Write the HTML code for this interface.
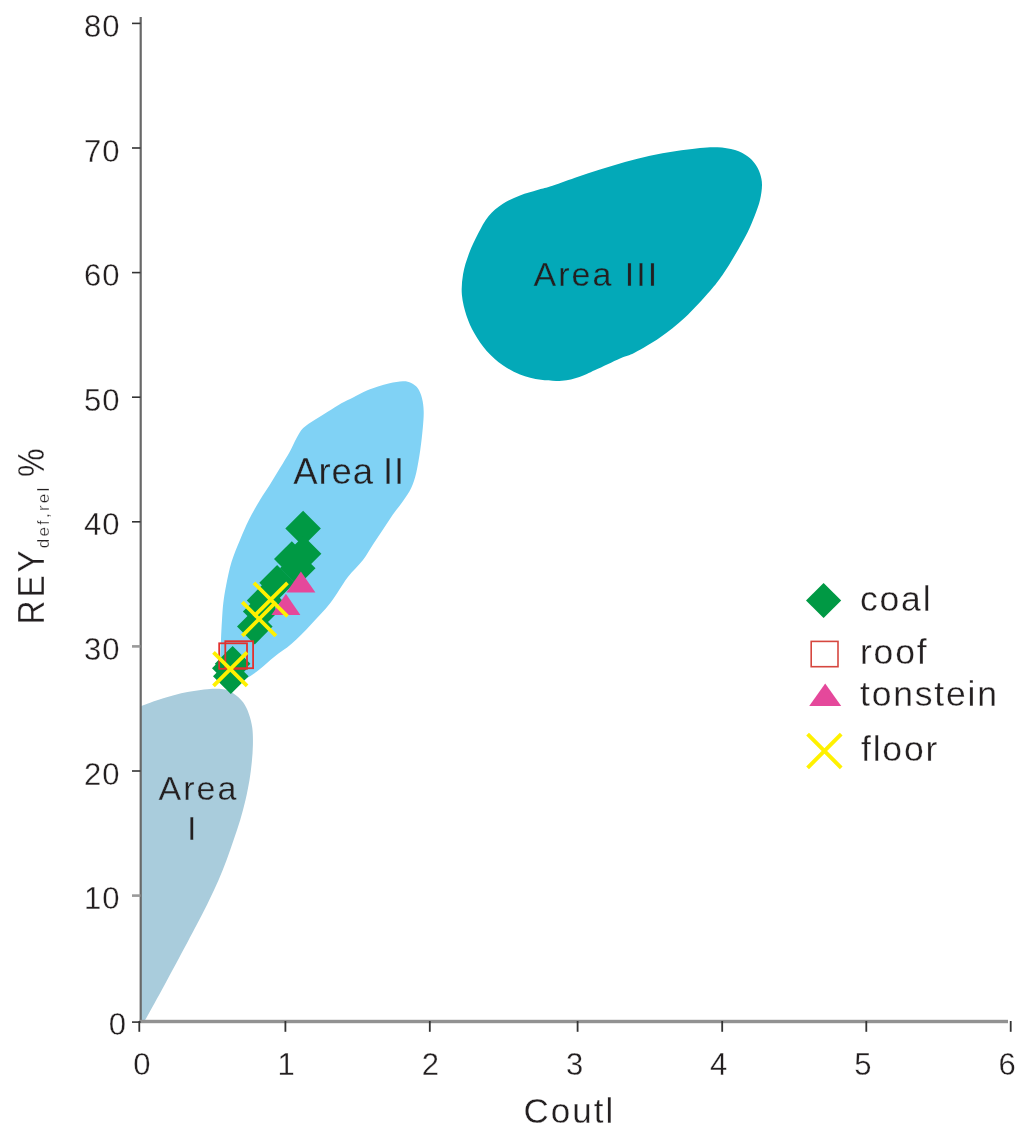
<!DOCTYPE html>
<html lang="en">
<head>
<meta charset="utf-8">
<title>REY def,rel % vs Coutl</title>
<style>
html,body{margin:0;padding:0;background:#fff;}
body{width:1024px;height:1143px;overflow:hidden;}
svg{display:block;}
text{font-family:"Liberation Sans",Arial,Helvetica,sans-serif;fill:#231f20;stroke:#fff;stroke-width:0.3px;}
.on3{stroke:#03a9b8;}
.on2{stroke:#80d2f5;}
.on1{stroke:#a9ccdc;}
.tick{font-size:31px;letter-spacing:1px;}
.lab{font-size:34px;letter-spacing:2px;}
.sub{font-size:17px;letter-spacing:2.2px;}
.leg{font-size:35.5px;letter-spacing:1.8px;}
</style>
</head>
<body>
<svg width="1024" height="1143" viewBox="0 0 1024 1143">
<rect x="0" y="0" width="1024" height="1143" fill="#ffffff"/>
<path d="M402.9,381.3C406.5,381.2 408.7,381.8 411.2,383.0C413.7,384.2 416.0,385.8 417.8,388.3C419.6,390.8 421.0,394.3 422.0,398.2C423.0,402.1 423.6,406.5 423.7,411.5C423.8,416.5 423.4,421.7 422.8,428.1C422.2,434.5 421.4,442.2 420.3,449.7C419.2,457.2 417.7,466.6 416.2,473.0C414.7,479.4 413.4,483.2 411.2,487.9C409.0,492.6 405.9,496.8 402.9,501.2C399.8,505.6 396.2,509.8 392.9,514.5C389.6,519.2 386.3,524.5 383.0,529.5C379.7,534.5 376.3,539.3 373.0,544.4C369.7,549.5 367.2,554.4 363.0,559.9C358.8,565.4 352.9,570.3 347.5,577.5C342.1,584.7 336.4,595.2 330.3,603.0C324.2,610.8 317.4,617.6 311.0,624.4C304.6,631.2 297.7,638.4 291.6,643.8C285.5,649.2 279.8,652.4 274.4,656.7C269.0,661.0 263.7,666.2 259.4,669.6C255.1,673.0 252.3,674.6 248.7,677.0C245.1,679.4 241.4,682.3 238.0,684.0C234.6,685.7 230.8,687.7 228.0,687.0C225.2,686.3 222.8,683.7 221.5,680.0C220.2,676.3 220.5,669.6 220.3,665.0C220.1,660.4 220.4,656.8 220.5,652.5C220.6,648.2 220.8,644.9 221.0,639.5C221.2,634.1 221.6,626.1 222.0,620.0C222.4,613.9 222.6,608.8 223.3,603.0C224.0,597.2 224.9,591.8 226.2,585.0C227.6,578.2 229.2,569.5 231.5,562.0C233.8,554.5 237.1,547.0 240.0,540.0C242.9,533.0 245.4,526.7 248.8,520.0C252.1,513.3 256.5,505.9 260.0,500.0C263.5,494.1 266.7,489.9 270.0,484.6C273.3,479.3 276.7,473.5 280.0,468.0C283.3,462.5 287.1,456.4 289.9,451.4C292.7,446.4 294.4,442.0 296.6,438.1C298.8,434.2 300.1,431.2 303.2,428.1C306.2,425.1 310.8,422.6 314.9,419.8C319.0,417.0 323.7,414.3 328.1,411.5C332.5,408.7 337.2,405.6 341.4,403.2C345.6,400.8 349.0,399.5 353.1,397.4C357.2,395.3 362.2,392.6 366.3,390.8C370.4,389.0 374.1,387.9 378.0,386.6C381.9,385.4 385.5,384.2 389.6,383.3C393.8,382.4 399.3,381.4 402.9,381.3Z" fill="#80d2f5"/>
<path d="M461.9,294.9C461.3,287.9 461.9,280.9 463.1,273.9C464.3,266.9 466.7,259.7 469.2,253.0C471.7,246.3 474.8,239.8 478.0,233.7C481.2,227.6 484.4,221.1 488.5,216.2C492.6,211.2 497.2,207.5 502.5,204.0C507.8,200.5 514.2,197.7 520.0,195.4C525.8,193.1 532.4,191.5 537.4,190.0C542.4,188.5 543.7,188.6 550.0,186.6C556.3,184.6 566.7,180.7 575.0,177.8C583.3,175.0 591.7,172.1 600.0,169.5C608.3,166.9 616.7,164.3 625.0,162.0C633.3,159.7 641.7,157.5 650.0,155.8C658.3,154.0 666.7,152.5 675.0,151.2C683.3,150.0 692.9,148.7 700.0,148.0C707.1,147.3 711.7,147.0 717.5,147.3C723.3,147.6 730.0,148.5 735.0,150.0C740.0,151.5 744.2,154.0 747.5,156.2C750.8,158.5 752.9,160.9 755.0,163.8C757.1,166.6 758.8,170.0 760.0,173.5C761.2,177.0 762.0,180.6 762.0,185.0C762.0,189.4 761.2,195.0 760.0,200.0C758.8,205.0 757.1,209.6 755.0,215.0C752.9,220.4 750.8,225.8 747.5,232.5C744.2,239.2 739.2,247.9 735.0,255.0C730.8,262.1 726.7,269.0 722.5,275.0C718.3,281.0 716.2,283.9 710.0,291.0C703.8,298.1 693.3,309.8 685.0,317.5C676.7,325.2 668.3,331.7 660.0,337.5C651.7,343.3 641.7,349.0 635.0,352.5C628.3,356.0 626.6,355.6 620.0,358.5C613.4,361.4 602.0,367.0 595.2,370.1C588.4,373.2 585.0,375.3 579.4,377.1C573.8,378.9 568.3,380.4 561.9,380.8C555.5,381.2 547.9,380.9 540.9,379.8C533.9,378.8 526.4,377.0 520.0,374.5C513.6,372.0 508.1,368.8 502.5,364.9C496.9,361.0 491.4,356.1 486.7,350.9C482.0,345.6 477.9,339.2 474.5,333.4C471.1,327.6 468.7,322.3 466.6,315.9C464.5,309.5 462.5,301.9 461.9,294.9Z" fill="#03a9b8"/>
<path d="M141.0,706.2C144.6,704.9 154.8,701.0 162.5,698.6C170.2,696.2 179.2,693.7 187.5,692.1C195.8,690.5 206.2,689.2 212.5,688.8C218.8,688.4 221.5,688.8 225.0,689.6C228.5,690.4 230.5,691.5 233.5,693.6C236.5,695.7 240.5,698.9 243.1,702.3C245.7,705.7 247.3,709.5 248.8,713.8C250.3,718.1 251.6,722.8 252.3,728.0C253.0,733.2 253.0,739.3 252.9,745.0C252.8,750.7 252.4,756.2 251.8,762.0C251.2,767.8 250.6,773.7 249.5,780.0C248.4,786.3 247.1,793.3 245.5,800.0C243.9,806.7 242.2,813.3 240.2,820.0C238.2,826.7 235.9,833.3 233.6,840.0C231.3,846.7 229.1,853.3 226.6,860.0C224.1,866.7 221.5,873.3 218.6,880.0C215.7,886.7 212.5,893.3 209.3,900.0C206.1,906.7 203.1,912.5 199.2,920.0C195.3,927.5 191.8,934.2 186.0,945.0C180.2,955.8 171.2,972.6 164.5,985.0C157.8,997.4 149.0,1013.1 145.7,1019.1C142.4,1025.1 144.8,1020.9 144.6,1021.2L141,1021.2L141,706.2Z" fill="#a9ccdc"/>
<rect x="139.6" y="17" width="2.2" height="1005" fill="#686868"/>
<rect x="139.5" y="1019.8" width="868.5" height="3.4" fill="#929292"/>
<rect x="132" y="1021.3" width="8.5" height="1.6" fill="#333"/>
<text class="tick" x="127" y="1034.8" text-anchor="end">0</text>
<rect x="132" y="894.3" width="8.5" height="2.6" fill="#9a9a9a"/>
<text class="tick" x="120.5" y="909.2" text-anchor="end">10</text>
<rect x="132" y="770.2" width="8.5" height="1.6" fill="#333"/>
<text class="tick" x="120.5" y="784.6" text-anchor="end">20</text>
<rect x="132" y="645.1" width="8.5" height="2.6" fill="#9a9a9a"/>
<text class="tick" x="120.5" y="660.0" text-anchor="end">30</text>
<rect x="132" y="521.0" width="8.5" height="1.6" fill="#333"/>
<text class="tick" x="120.5" y="535.4" text-anchor="end">40</text>
<rect x="132" y="396.4" width="8.5" height="1.6" fill="#333"/>
<text class="tick" x="120.5" y="410.8" text-anchor="end">50</text>
<rect x="132" y="271.8" width="8.5" height="1.6" fill="#333"/>
<text class="tick" x="120.5" y="286.2" text-anchor="end">60</text>
<rect x="132" y="147.2" width="8.5" height="1.6" fill="#333"/>
<text class="tick" x="120.5" y="161.6" text-anchor="end">70</text>
<rect x="132" y="22.6" width="8.5" height="1.6" fill="#333"/>
<text class="tick" x="120.5" y="37.0" text-anchor="end">80</text>
<rect x="138.4" y="1021" width="1.8" height="10.8" fill="#333"/>
<text class="tick" x="142.4" y="1074.6" text-anchor="middle">0</text>
<rect x="284.5" y="1021" width="1.8" height="10.8" fill="#333"/>
<text class="tick" x="286.6" y="1074.6" text-anchor="middle">1</text>
<rect x="428.9" y="1021" width="1.8" height="10.8" fill="#333"/>
<text class="tick" x="430.8" y="1074.6" text-anchor="middle">2</text>
<rect x="576.7" y="1021" width="1.8" height="10.8" fill="#333"/>
<text class="tick" x="575.0" y="1074.6" text-anchor="middle">3</text>
<rect x="721.3" y="1021" width="1.8" height="10.8" fill="#333"/>
<text class="tick" x="719.2" y="1074.6" text-anchor="middle">4</text>
<rect x="865.4" y="1021" width="1.8" height="10.8" fill="#333"/>
<text class="tick" x="863.4" y="1074.6" text-anchor="middle">5</text>
<rect x="1009.8" y="1021" width="1.8" height="10.8" fill="#333"/>
<text class="tick" x="1007.6" y="1074.6" text-anchor="middle">6</text>
<text class="lab" x="523.5" y="1122.6" style="font-size:35px">Coutl</text>
<g transform="translate(43.9,624.5) rotate(-90)"><text class="lab" transform="scale(0.91,1)" x="0" y="0" style="font-size:36.5px;letter-spacing:3.3px">REY</text><text class="sub" x="76.3" y="5.5">def,rel</text><text class="lab" transform="translate(147.4,0) scale(0.87,1)" x="0" y="0" style="font-size:37px">%</text></g>
<text class="lab on3" x="533.5" y="285.8">Area III</text>
<text class="lab on2" x="293.2" y="483.7" style="font-size:36.5px;letter-spacing:0.9px">Area<tspan dx="-2"> II</tspan></text>
<text class="lab on1" x="158.5" y="800">Area</text>
<text class="lab on1" x="187" y="840">I</text>
<path d="M303.1,510.7L320.9,528.5L303.1,546.3L285.3,528.5Z" fill="#009944"/>
<path d="M303.6,536.0L321.4,553.8L303.6,571.6L285.8,553.8Z" fill="#009944"/>
<path d="M291.8,541.3L309.6,559.1L291.8,576.9L274.0,559.1Z" fill="#009944"/>
<path d="M297.7,550.4L315.5,568.2L297.7,586.0L279.9,568.2Z" fill="#009944"/>
<path d="M277.1,564.9L294.9,582.7L277.1,600.5L259.3,582.7Z" fill="#009944"/>
<path d="M264.6,582.6L282.4,600.4L264.6,618.2L246.8,600.4Z" fill="#009944"/>
<path d="M260.7,593.7L278.5,611.5L260.7,629.3L242.9,611.5Z" fill="#009944"/>
<path d="M254.8,608.8L272.6,626.6L254.8,644.4L237.0,626.6Z" fill="#009944"/>
<path d="M232.6,646.0L250.4,663.8L232.6,681.6L214.8,663.8Z" fill="#009944"/>
<path d="M229.8,650.5L247.6,668.3L229.8,686.1L212.0,668.3Z" fill="#009944"/>
<path d="M230.8,658.5L248.6,676.3L230.8,694.1L213.0,676.3Z" fill="#009944"/>
<rect x="219.2" y="643.3" width="27.8" height="25.5" fill="none" stroke="#e2312f" stroke-width="1.8"/>
<rect x="225.3" y="641.2" width="27.8" height="27" fill="none" stroke="#e2312f" stroke-width="1.8"/>
<path d="M300.9,571.5L315.4,592.6L286.4,592.6Z" fill="#e5489b"/>
<path d="M285.9,593.8L300.4,614.9L271.4,614.9Z" fill="#e5489b"/>
<path d="M253.9,582.8L287.5,616.4M287.5,582.8L253.9,616.4" stroke="#fff100" stroke-width="3.8" fill="none"/>
<path d="M242.3,602.2L275.9,635.8M275.9,602.2L242.3,635.8" stroke="#fff100" stroke-width="3.8" fill="none"/>
<path d="M213.5,652.3L247.1,685.9M247.1,652.3L213.5,685.9" stroke="#fff100" stroke-width="3.8" fill="none"/>
<path d="M823.6,582.9L841.2,600.5L823.6,618.1L806.0,600.5Z" fill="#009944"/>
<rect x="811.2" y="641.4" width="26.8" height="25.3" fill="none" stroke="#d6473f" stroke-width="1.6"/>
<path d="M825.2,683.6L841.2,706.0L809.2,706.0Z" fill="#e5489b"/>
<path d="M807.6,734.2L841.2,767.8M841.2,734.2L807.6,767.8" stroke="#fff100" stroke-width="3.9" fill="none"/>
<text class="leg" x="860" y="611.2">coal</text>
<text class="leg" x="860" y="663.6">roof</text>
<text class="leg" x="860" y="705.8">tonstein</text>
<text class="leg" x="861" y="761.3">floor</text>
</svg>
</body>
</html>
